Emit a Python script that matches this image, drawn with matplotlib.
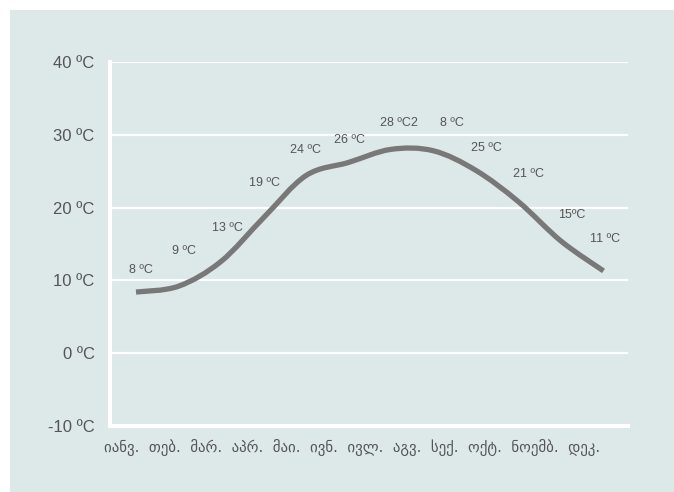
import matplotlib
matplotlib.use("Agg")
import matplotlib.pyplot as plt
from matplotlib.patches import Rectangle, PathPatch
from matplotlib.path import Path

# data
months = ['იანვ.', 'თებ.', 'მარ.', 'აპრ.', 'მაი.', 'ივნ.',
          'ივლ.', 'აგვ.', 'სექ.', 'ოქტ.', 'ნოემბ.', 'დეკ.']
temps = [8.4, 9.2, 12.6, 18.6, 24.4, 26.2, 28.0, 27.8, 25.1, 20.8, 15.4, 11.3]
point_labels = ['8 ºC', '9 ºC', '13 ºC', '19 ºC', '24 ºC', '26 ºC',
                '28 ºC2', '8 ºC', '25 ºC', '21 ºC', '15ºC', '11 ºC']
yticks = [-10, 0, 10, 20, 30, 40]
ytick_labels = ['-10 ºC', '0 ºC', '10 ºC', '20 ºC', '30 ºC', '40 ºC']

# layout: label offsets in pixels from each point
label_offsets = [(5, 22), (6, 35), (6, 33), (1, 35), (0, 26), (1, 22),
                 (8, 26), (18, 28), (10, 22), (10, 28), (11, 26), (2, 32)]

bg = '#dde8e8'
txt = '#555555'
plt.rcParams['font.family'] = ['Liberation Sans', 'DejaVu Sans']

fig = plt.figure(figsize=(6.74, 4.92), dpi=100)
fig.patch.set_facecolor('white')
fig.add_artist(Rectangle((10 / 674, 0), 1, 1 - 10 / 492, transform=fig.transFigure,
                         facecolor=bg, edgecolor='none', zorder=-10))

ax = fig.add_axes([110 / 674, 1 - 426 / 492, 518 / 674, 364 / 492])
ax.set_facecolor(bg)

# smooth line through the monthly values (Catmull-Rom as cubic Beziers)
x = list(range(len(temps)))
pts = list(zip(x, temps))
verts = [pts[0]]
codes = [Path.MOVETO]
for i in range(len(pts) - 1):
    p0 = pts[max(i - 1, 0)]
    p1 = pts[i]
    p2 = pts[i + 1]
    p3 = pts[min(i + 2, len(pts) - 1)]
    c1 = (p1[0] + (p2[0] - p0[0]) / 6, p1[1] + (p2[1] - p0[1]) / 6)
    c2 = (p2[0] - (p3[0] - p1[0]) / 6, p2[1] - (p3[1] - p1[1]) / 6)
    verts += [c1, c2, p2]
    codes += [Path.CURVE4] * 3
ax.add_patch(PathPatch(Path(verts, codes), facecolor='none', edgecolor='#787878',
                       lw=3.8, capstyle='butt', zorder=3))

for xi, yi, lab, off in zip(x, temps, point_labels, label_offsets):
    ax.annotate(lab, (xi, yi), xytext=off, textcoords='offset pixels',
                ha='center', va='center', fontsize=9, color=txt)

ax.set_xlim(-26 / 42.5, 11 + 24.5 / 42.5)
ax.set_ylim(-10, 40)
ax.set_yticks(yticks)
ax.set_yticklabels(ytick_labels, fontsize=12, color=txt)
ax.set_xticks([])
ax.tick_params(length=0, pad=11)
ax.yaxis.grid(True, color='white', lw=1.6)
ax.set_axisbelow(True)
for s in ['top', 'right']:
    ax.spines[s].set_visible(False)
for s in ['left', 'bottom']:
    ax.spines[s].set_color('white')
    ax.spines[s].set_linewidth(3)
    ax.spines[s].set_capstyle('projecting')

# month names run as one line of text under the axis
ax.text(-0.012, -0.058, '  '.join(months), transform=ax.transAxes,
        ha='left', va='center', fontsize=10.7, color=txt, family='DejaVu Sans')

fig.savefig('out.png', dpi=100, facecolor=fig.get_facecolor())
